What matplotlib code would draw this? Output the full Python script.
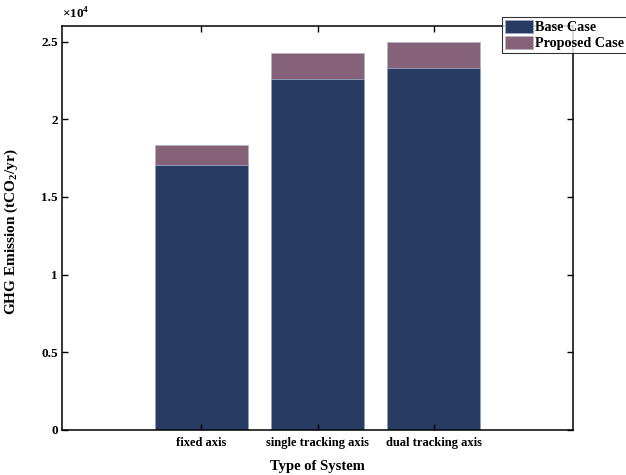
import matplotlib.pyplot as plt
import numpy as np

# values (tCO2/yr)
systems = ["fixed axis", "single tracking axis", "dual tracking axis"]
base_case = [17070, 22610, 23280]
proposed_case = [18340, 24260, 24950]

BASE_CLR = "#283b62"
PROP_CLR = "#856277"

plt.rcParams["font.family"] = ["Liberation Serif", "DejaVu Serif"]
plt.rcParams["font.weight"] = "bold"
plt.rcParams["mathtext.fontset"] = "custom"
plt.rcParams["mathtext.rm"] = "Liberation Serif:bold"
plt.rcParams["mathtext.bf"] = "Liberation Serif:bold"

fig = plt.figure(figsize=(6.26, 4.75), dpi=100)
ax = fig.add_axes([62/626, 1-430/475, (573-62)/626, (430-26)/475])

x = np.arange(1, len(systems)+1)

#proposed drawn first, base overlaid on it
ax.bar(x, proposed_case, width=0.8, color=PROP_CLR, edgecolor="#b8b0c8",
       linewidth=0.6, label="Proposed Case")
ax.bar(x, base_case, width=0.8, color=BASE_CLR, edgecolor="#9aa6c4",
       linewidth=0.6, label="Base Case")

ax.set_xlim(-0.2, 4.2)
ax.set_ylim(0, 26000)
ax.set_xticks(x)
ax.set_xticklabels(systems, fontsize=9, fontweight="bold")
yt = np.arange(0, 25001, 5000)
ax.set_yticks(yt)
ax.set_yticklabels(["0", "0.5", "1", "1.5", "2", "2.5"], fontsize=9.5, fontweight="bold")
ax.tick_params(direction="in", length=4, width=1, top=True, right=True, pad=5)
ax.tick_params(axis="y", pad=3)
for s in ax.spines.values():
    s.set_linewidth(1.1)

ax.text(0.0, 1.01, r"$\times10^4$", transform=ax.transAxes, fontsize=9.5,
        ha="left", va="bottom")

ax.set_ylabel("GHG Emission (tCO$_2$/yr)", fontsize=11, fontweight="bold")
ax.yaxis.set_label_coords(-0.082, 0.49)
ax.set_xlabel("Type of System", fontsize=10.5, fontweight="bold")
ax.xaxis.set_label_coords(0.5, -0.074)

h, l = ax.get_legend_handles_labels()
leg = fig.legend(h[::-1], l[::-1], loc="upper left", bbox_to_anchor=(502/626, 1-17/475),
                 fontsize=10.2, frameon=True, fancybox=False, edgecolor="black",
                 borderpad=0.2, labelspacing=0.15, handlelength=2.0, handleheight=1.0,
                 handletextpad=0.15, borderaxespad=0)
leg.get_frame().set_linewidth(0.8)
for t in leg.get_texts():
    t.set_fontweight("bold")

plt.savefig("out.png", dpi=100)
